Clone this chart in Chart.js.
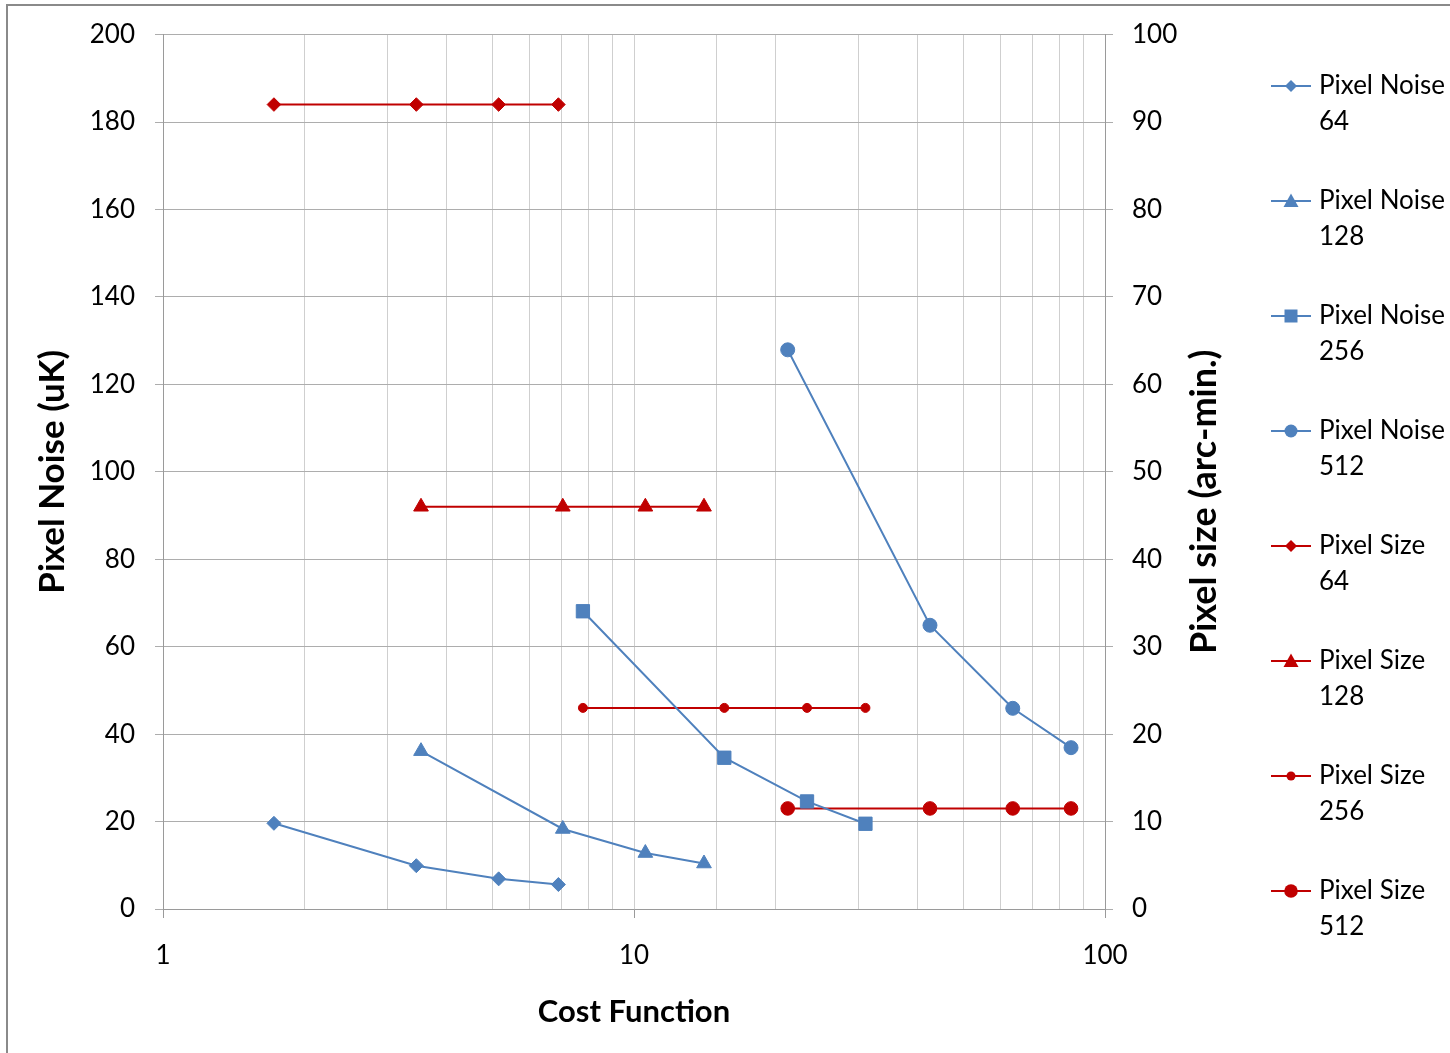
<!DOCTYPE html>
<html lang="en">
<head>
<meta charset="UTF-8">
<title>Pixel Noise / Pixel Size vs Cost Function</title>
<script src="https://cdn.jsdelivr.net/npm/chart.js"></script>
<style>
    html, body { margin: 0; padding: 0; background: #fff; }
    .wrap { position: relative; width: 1450px; height: 1053px; overflow: hidden; }
    .wrap canvas { position: absolute; left: 0; top: 0; }
    .frame {
        position: absolute; left: 6px; top: 4px; width: 1500px; height: 1100px;
        border-left: 2px solid #8a8a8a; border-top: 2px solid #8a8a8a;
        pointer-events: none;
    }
</style>
</head>
<body>
<div class="wrap">
    <canvas id="costChart" width="1450" height="1053"></canvas>
    <div class="frame"></div>
</div>
<script>
    // values
    const cost64 = [1.72, 3.45, 5.16, 6.91];
    const cost128 = [3.53, 7.06, 10.57, 14.08];
    const cost256 = [7.79, 15.55, 23.3, 31.0];
    const cost512 = [21.2, 42.5, 63.7, 84.7];

    const noise64 = [19.6, 9.9, 6.9, 5.6];
    const noise128 = [36.1, 18.3, 12.8, 10.4];
    const noise256 = [68.1, 34.6, 24.6, 19.5];
    const noise512 = [127.9, 64.9, 45.9, 36.9];

    const size64 = [92, 92, 92, 92];
    const size128 = [46, 46, 46, 46];
    const size256 = [23, 23, 23, 23];
    const size512 = [11.5, 11.5, 11.5, 11.5];

    const blue = '#4f81bd';
    const red = '#c00000';
    const fontFamily = "Lato, 'Open Sans', sans-serif";

    function points(xs, ys) {
        return xs.map((x, i) => ({ x: x, y: ys[i] }));
    }

    function isDecade(v) {
        const l = Math.log10(v);
        return Math.abs(l - Math.round(l)) < 1e-9;
    }

    // little line + marker picture used as legend symbol
    function legendIcon(color, style, r) {
        const c = document.createElement('canvas');
        c.width = 40;
        c.height = 20;
        const g = c.getContext('2d');
        const cx = 20, cy = 10;
        g.strokeStyle = color;
        g.fillStyle = color;
        g.lineWidth = 2;
        g.beginPath();
        g.moveTo(0, cy);
        g.lineTo(40, cy);
        g.stroke();
        g.beginPath();
        if (style === 'rectRot') {
            g.moveTo(cx, cy - r); g.lineTo(cx + r, cy); g.lineTo(cx, cy + r); g.lineTo(cx - r, cy);
        } else if (style === 'triangle') {
            g.moveTo(cx, cy - r); g.lineTo(cx + r, cy + r * 0.8); g.lineTo(cx - r, cy + r * 0.8);
        } else if (style === 'rect') {
            g.rect(cx - r, cy - r, 2 * r, 2 * r);
        } else {
            g.arc(cx, cy, r, 0, Math.PI * 2);
        }
        g.closePath();
        g.fill();
        return c;
    }

    const legendIcons = [];

    function makeSet(label, xs, ys, axis, color, style, radius, iconR) {
        legendIcons.push(legendIcon(color, style, iconR));
        return {
            label: label,
            data: points(xs, ys),
            yAxisID: axis,
            showLine: true,
            borderColor: color,
            backgroundColor: color,
            borderWidth: 2,
            pointStyle: style,
            pointRadius: radius,
            pointBorderWidth: 1,
            pointBackgroundColor: color,
            pointBorderColor: color
        };
    }

    const datasets = [
        makeSet('Pixel Noise 64', cost64, noise64, 'y', blue, 'rectRot', 7, 6),
        makeSet('Pixel Noise 128', cost128, noise128, 'y', blue, 'triangle', 8.5, 7.5),
        makeSet('Pixel Noise 256', cost256, noise256, 'y', blue, 'rect', 9.4, 6.5),
        makeSet('Pixel Noise 512', cost512, noise512, 'y', blue, 'circle', 7, 6.5),
        makeSet('Pixel Size 64', cost64, size64, 'y2', red, 'rectRot', 6.8, 6),
        makeSet('Pixel Size 128', cost128, size128, 'y2', red, 'triangle', 8.5, 7.5),
        makeSet('Pixel Size 256', cost256, size256, 'y2', red, 'circle', 4.5, 4.5),
        makeSet('Pixel Size 512', cost512, size512, 'y2', red, 'circle', 6.8, 6.8)
    ];

    // right axis title reads bottom to top, so draw it here
    const rightTitle = {
        id: 'rightTitle',
        afterDraw(chart) {
            const s = chart.scales.y2;
            const ctx = chart.ctx;
            ctx.save();
            ctx.translate(s.left + 99, (s.top + s.bottom) / 2 + 30);
            ctx.rotate(-Math.PI / 2);
            ctx.font = 'bold 36px ' + fontFamily;
            ctx.fillStyle = '#000';
            ctx.textAlign = 'center';
            ctx.textBaseline = 'middle';
            ctx.fillText('Pixel size (arc-min.)', 0, 0);
            ctx.restore();
        }
    };

    Chart.defaults.font.family = fontFamily;
    Chart.defaults.color = '#000';

    new Chart(document.getElementById('costChart'), {
        type: 'scatter',
        data: { datasets: datasets },
        plugins: [rightTitle],
        options: {
            responsive: false,
            animation: false,
            events: [],
            layout: { padding: { top: 30, left: 0, right: 0, bottom: 0 } },
            plugins: {
                tooltip: { enabled: false },
                legend: {
                    position: 'right',
                    align: 'start',
                    maxWidth: 217,
                    labels: {
                        usePointStyle: true,
                        pointStyleWidth: 30,
                        padding: 43,
                        color: '#000',
                        font: { size: 26, lineHeight: 36 / 26 },
                        generateLabels: chart => chart.data.datasets.map((ds, i) => {
                            const cut = ds.label.lastIndexOf(' ');
                            return {
                                text: [ds.label.slice(0, cut), ds.label.slice(cut + 1)],
                                pointStyle: legendIcons[i],
                                datasetIndex: i,
                                hidden: false,
                                fillStyle: ds.borderColor,
                                strokeStyle: ds.borderColor,
                                lineWidth: 0,
                                fontColor: '#000'
                            };
                        })
                    }
                }
            },
            scales: {
                x: {
                    type: 'logarithmic',
                    position: 'bottom',
                    min: 1,
                    max: 100,
                    afterFit: s => { s.height = 144; },
                    grid: {
                        color: '#cfcfcf',
                        tickLength: 9,
                        tickColor: c => (c.tick && isDecade(c.tick.value)) ? '#9a9a9a' : 'rgba(0,0,0,0)'
                    },
                    border: { color: '#9a9a9a' },
                    ticks: {
                        autoSkip: false,
                        maxRotation: 0,
                        padding: 22,
                        font: { size: 26 },
                        callback: v => isDecade(v) ? String(v) : ''
                    },
                    title: {
                        display: true,
                        text: 'Cost Function',
                        font: { size: 31, weight: 'bold' },
                        padding: { top: 0, bottom: 22 }
                    }
                },
                y: {
                    position: 'left',
                    min: 0,
                    max: 200,
                    afterFit: s => { s.width = 163; s.paddingTop = 34; },
                    grid: { color: '#adadad', tickLength: 8 },
                    border: { color: '#9a9a9a' },
                    ticks: { stepSize: 20, padding: 20, font: { size: 26 } },
                    title: {
                        display: true,
                        text: 'Pixel Noise (uK)',
                        font: { size: 35, weight: 'bold' },
                        padding: { top: 32, bottom: 0 }
                    }
                },
                y2: {
                    position: 'right',
                    min: 0,
                    max: 100,
                    afterFit: s => { s.width = 128; },
                    grid: { drawOnChartArea: false, color: '#adadad', tickLength: 8 },
                    border: { color: '#9a9a9a' },
                    ticks: { stepSize: 10, padding: 19, font: { size: 26 } }
                }
            }
        }
    });
</script>
</body>
</html>
